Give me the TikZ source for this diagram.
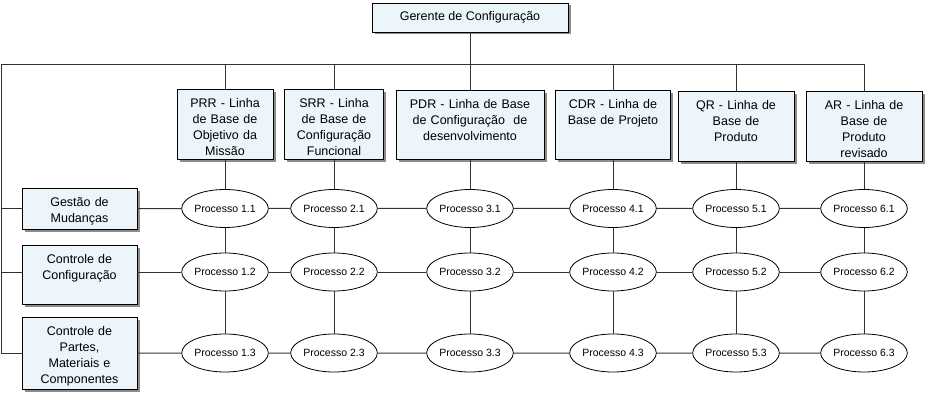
\documentclass[tikz,border=0pt]{standalone}
\usepackage{fontspec}
\setmainfont{Liberation Sans}
\usetikzlibrary{shapes.geometric,shadows}
\definecolor{boxfill}{RGB}{235,245,250}

\begin{document}
\begin{tikzpicture}[x=1pt, y=-1pt,
    box/.style={draw, fill=boxfill, line width=0.8pt,
        drop shadow={shadow xshift=2.5pt, shadow yshift=-2.5pt, fill=black, opacity=0.45},
        anchor=north, align=center, inner xsep=2pt, inner ysep=4pt, text height=14pt,
        font=\fontsize{12.5}{16}\selectfont},
    proc/.style={ellipse, draw, fill=white, line width=0.8pt, minimum width=82pt,
        minimum height=38pt, inner sep=0pt, font=\fontsize{10.5}{12}\selectfont},
    link/.style={draw=black!80, line width=1pt}]
    \useasboundingbox (0,0) rectangle (931,403);

    % top
    \node[box, anchor=center, minimum width=196pt, minimum height=29pt, text height=, inner ysep=0pt] (ger) at (470,17.5) {Gerente de Configuração};

    % linhas de base
    \node[box, text width=92pt, text depth=48pt] (prr) at (225,89) {PRR - Linha\\de Base de\\Objetivo da\\Missão};
    \node[box, text width=95pt, text depth=48pt] (srr) at (334,89) {SRR - Linha\\de Base de\\Configuração\\Funcional};
    \node[box, text width=144pt, text depth=47pt] (pdr) at (470,90) {PDR - Linha de Base\\de Configuração \ de\\desenvolvimento};
    \node[box, text width=111pt, text depth=47pt] (cdr) at (613,90) {CDR - Linha de\\Base de Projeto};
    \node[box, text width=112pt, text depth=48pt] (qr) at (736,91) {QR - Linha de\\Base de\\Produto};
    \node[box, text width=112pt, text depth=48pt] (ar) at (864,91) {AR - Linha de\\Base de\\Produto\\revisado};

    % areas
    \node[box, text width=111pt, text depth=19pt] (gest) at (79.5,188) {Gestão de\\Mudanças};
    \node[box, text width=111pt, text depth=37pt] (conf) at (79.5,245) {Controle de\\Configuração};
    \node[box, text width=111pt, text depth=50pt] (part) at (79.5,317) {Controle de\\Partes,\\Materiais e\\Componentes};

    % processos
    \node[proc] (p11) at (225,208.5) {Processo 1.1};
    \node[proc] (p12) at (225,272) {Processo 1.2};
    \node[proc] (p13) at (225,353) {Processo 1.3};
    \node[proc] (p21) at (334,208.5) {Processo 2.1};
    \node[proc] (p22) at (334,272) {Processo 2.2};
    \node[proc] (p23) at (334,353) {Processo 2.3};
    \node[proc] (p31) at (470,208.5) {Processo 3.1};
    \node[proc] (p32) at (470,272) {Processo 3.2};
    \node[proc] (p33) at (470,353) {Processo 3.3};
    \node[proc] (p41) at (613,208.5) {Processo 4.1};
    \node[proc] (p42) at (613,272) {Processo 4.2};
    \node[proc] (p43) at (613,353) {Processo 4.3};
    \node[proc] (p51) at (736,208.5) {Processo 5.1};
    \node[proc] (p52) at (736,272) {Processo 5.2};
    \node[proc] (p53) at (736,353) {Processo 5.3};
    \node[proc] (p61) at (864,208.5) {Processo 6.1};
    \node[proc] (p62) at (864,272) {Processo 6.2};
    \node[proc] (p63) at (864,353) {Processo 6.3};

    % barramento
    \coordinate (bus) at (1,65);
    \draw[link] (bus |- p13) -- (bus) -| (ar);
    \draw[link] (ger) -- (ger |- bus);
    \draw[link] (prr) -- (prr |- bus);
    \draw[link] (srr) -- (srr |- bus);
    \draw[link] (pdr) -- (pdr |- bus);
    \draw[link] (cdr) -- (cdr |- bus);
    \draw[link] (qr) -- (qr |- bus);
    \draw[link] (bus |- gest) -- (gest);
    \draw[link] (bus |- p12) -- (p12 -| conf.west);
    \draw[link] (bus |- part) -- (part);

    % linhas
    \draw[link] (gest) -- (p11) -- (p21) -- (p31) -- (p41) -- (p51) -- (p61);
    \draw[link] (conf.east |- p12) -- (p12) -- (p22) -- (p32) -- (p42) -- (p52) -- (p62);
    \draw[link] (part) -- (p13) -- (p23) -- (p33) -- (p43) -- (p53) -- (p63);

    % colunas
    \draw[link] (prr) -- (p11) -- (p12) -- (p13);
    \draw[link] (srr) -- (p21) -- (p22) -- (p23);
    \draw[link] (pdr) -- (p31) -- (p32) -- (p33);
    \draw[link] (cdr) -- (p41) -- (p42) -- (p43);
    \draw[link] (qr) -- (p51) -- (p52) -- (p53);
    \draw[link] (ar) -- (p61) -- (p62) -- (p63);
\end{tikzpicture}
\end{document}
